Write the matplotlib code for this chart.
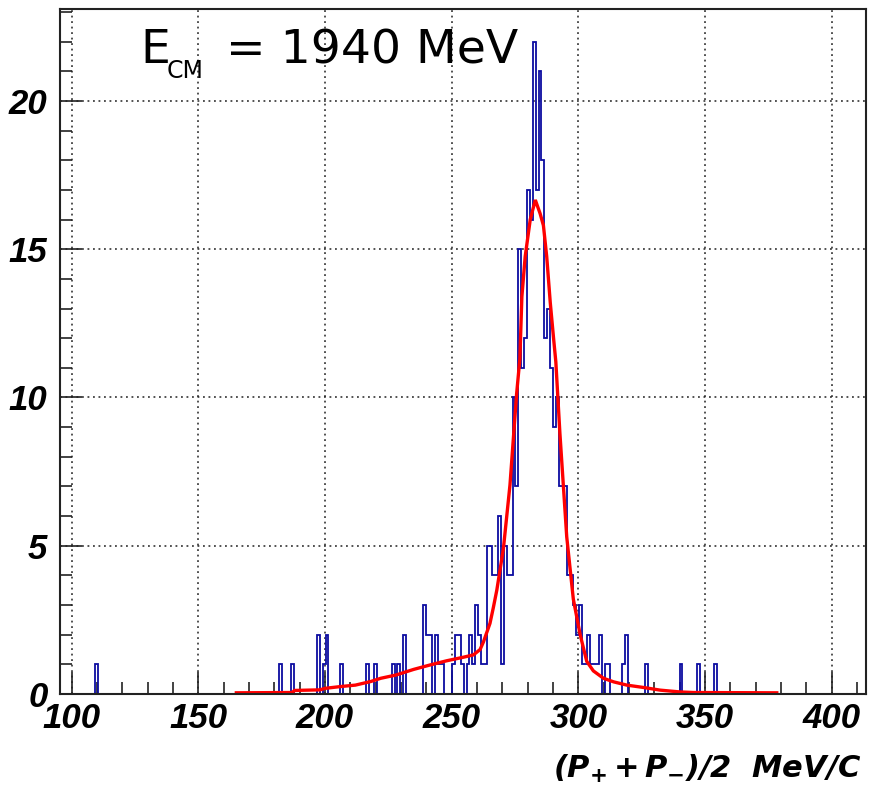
import numpy as np
import matplotlib
matplotlib.use('Agg')
import matplotlib.pyplot as plt
from matplotlib.ticker import MultipleLocator

# ---------------- data ----------------
bin_lo = 95.69
bin_width = 1.136
n_bins = 280

# isolated (sparse) bins: position and count
sparse_x = [110.0, 182.5, 187.5, 197.7, 199.4, 201.2, 206.6, 217.2, 219.6,
            226.6, 229.2, 231.6, 239.5, 240.8, 242.2, 243.5, 245.0, 246.5,
            250.6, 252.3, 253.5, 254.7, 255.9,
            317.5, 319.3, 326.3, 340.8, 347.7, 354.6]
sparse_counts = [1, 1, 1, 2, 1, 2, 1, 1, 1,
                 1, 1, 2, 3, 2, 2, 2, 1, 1,
                 1, 2, 2, 1, 1,
                 1, 2, 1, 1, 1, 1]

# contiguous bins around the peak
peak_start = 257.0
peak_counts = [2, 1, 3, 2, 1, 1, 5, 5, 4, 4, 6, 1, 5, 4, 4, 10, 7, 15, 11, 12,
               17, 16, 22, 17, 21, 18, 12, 13, 11, 9, 10, 7, 7, 7, 4, 4, 3, 2,
               3, 1, 1, 2, 1, 1, 1, 2, 0, 1, 1, 0]

# fitted curve
fit_x = [165, 187, 188, 198, 200, 206, 212, 218, 222, 228, 235, 241.5, 248,
         254.6, 258.6, 261.2, 262.5, 265.1, 266.4, 267.8, 270.4, 273, 275.6,
         276.9, 277.7, 279.0, 281.0, 283.0, 284.9, 286.2, 287.5, 288.9,
         290.2, 291.1, 292.7, 295.4, 298.0, 300.7, 303.3, 305.9, 309.9,
         313.9, 319.1, 325.7, 332.3, 340, 345.4, 378.3]
fit_y = [0.04, 0.05, 0.12, 0.14, 0.19, 0.25, 0.30, 0.42, 0.53, 0.64, 0.83,
         0.98, 1.12, 1.24, 1.32, 1.50, 1.75, 2.38, 2.90, 3.50, 4.90, 7.05,
         10.1, 11.3, 13.4, 14.75, 16.0, 16.66, 16.2, 15.8, 14.75, 13.2,
         12.0, 11.2, 8.8, 5.3, 3.2, 2.0, 1.1, 0.78, 0.53, 0.41, 0.30, 0.22,
         0.13, 0.07, 0.05, 0.04]

x_ticks = [100, 150, 200, 250, 300, 350, 400]
y_ticks = [0, 5, 10, 15, 20]
x_range = (95.4, 413.4)
y_range = (0, 23.1)

# ---------------- build histogram ----------------
counts = np.zeros(n_bins)
for x, c in zip(sparse_x, sparse_counts):
    counts[int((x - bin_lo) // bin_width)] = c
k0 = int(round((peak_start - bin_lo) / bin_width))
counts[k0:k0 + len(peak_counts)] = peak_counts
edges = bin_lo + bin_width * np.arange(n_bins + 1)

# ---------------- figure ----------------
W, H = 882, 795
plt.rcParams['mathtext.fontset'] = 'custom'
plt.rcParams['mathtext.rm'] = 'Liberation Sans Narrow:italic:bold'
plt.rcParams['mathtext.it'] = 'Liberation Sans Narrow:italic:bold'
plt.rcParams['mathtext.bf'] = 'Liberation Sans Narrow:italic:bold'

fig = plt.figure(figsize=(W / 100, H / 100), dpi=100)
ax = fig.add_axes([60 / W, 1 - 694 / H, (865.7 - 60) / W, (694 - 9) / H])

ax.stairs(counts, edges, color='#0c0ca0', lw=1.3, zorder=2)
ax.plot(fit_x, fit_y, color='#ff0000', lw=2.4, zorder=3,
        solid_joinstyle='miter')

ax.set_xlim(*x_range)
ax.set_ylim(*y_range)
ax.set_xticks(x_ticks)
ax.set_yticks(y_ticks)
ax.xaxis.set_minor_locator(MultipleLocator(10))
ax.yaxis.set_minor_locator(MultipleLocator(1))

ax.grid(True, which='major', linestyle=(0, (1.2, 2.4)), color='#222222',
        lw=1.1, zorder=1)

tick_font = dict(family=['Liberation Sans Narrow', 'Liberation Sans'],
                 weight='bold', style='italic', size=25)
ax.tick_params(axis='both', which='major', direction='in', length=16,
               width=1.2, color='#222222', top=False, right=False)
ax.tick_params(axis='both', which='minor', direction='in', length=8.8,
               width=1.2, color='#222222', top=False, right=False)
ax.tick_params(axis='x', which='major', pad=6)
ax.tick_params(axis='y', which='major', pad=9)
for lab in ax.get_xticklabels() + ax.get_yticklabels():
    lab.set_fontproperties(matplotlib.font_manager.FontProperties(**tick_font))

for sp in ax.spines.values():
    sp.set_linewidth(1.5)
    sp.set_color('#222222')
    sp.set_zorder(4)

# x label
fig.text(862 / W, 1 - 778 / H, r'$(P_{+}\,{+}\,P_{-})/2\ \ MeV/C$',
         ha='right', va='baseline', fontsize=22,
         family=['Liberation Sans Narrow', 'Liberation Sans'],
         weight='bold', style='italic', math_fontfamily='custom')

# E_CM annotation
fig.text(140 / W, 1 - 63 / H, 'E', ha='left', va='baseline',
         fontsize=34, family='DejaVu Sans')
fig.text(167 / W, 1 - 78 / H, 'CM', ha='left', va='baseline',
         fontsize=17, family='DejaVu Sans')
fig.text(226 / W, 1 - 63 / H, '= 1940 MeV', ha='left', va='baseline',
         fontsize=34, family='DejaVu Sans')

fig.savefig('out.png', dpi=100)
